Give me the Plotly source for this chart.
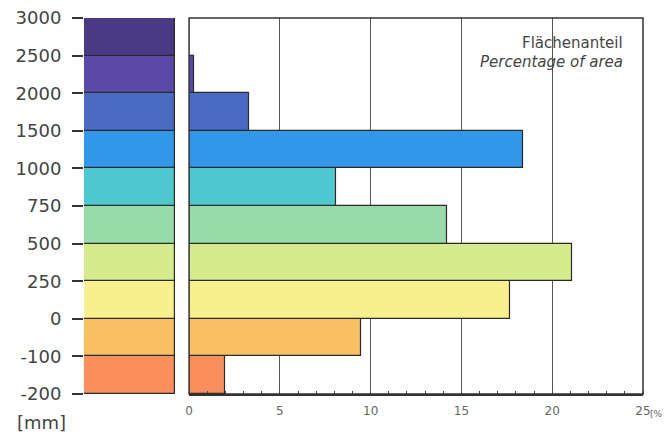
import plotly.graph_objects as go

# Bands from bottom (-200..-100) to top (2500..3000)
band_labels = ["-200 – -100", "-100 – 0", "0 – 250", "250 – 500", "500 – 750",
               "750 – 1000", "1000 – 1500", "1500 – 2000", "2000 – 2500", "2500 – 3000"]
area_pct = [2.0, 9.5, 17.7, 21.1, 14.2, 8.1, 18.4, 3.3, 0.3, 0.0]
band_colors = ["#f98f5c", "#f9bf63", "#f8ef8f", "#d5ec8e", "#98dba8",
               "#4ec7cf", "#3397e8", "#4b6ac2", "#5b49a8", "#4a3a86"]
tick_text = ["-200", "-100", "0", "250", "500", "750", "1000", "1500", "2000", "2500", "3000"]
x_ticks = [0, 5, 10, 15, 20, 25]

n = len(band_labels)
y_pos = [i + 0.5 for i in range(n)]

FONT = "DejaVu Sans, Liberation Sans, Arial, sans-serif"

fig = go.Figure()

# colour key strip on the left
fig.add_trace(go.Bar(
    y=y_pos, x=[1] * n, base=0, width=1, orientation="h",
    marker=dict(color=band_colors, line=dict(color="#2a2a2a", width=1.2)),
    xaxis="x", yaxis="y", hovertext=band_labels, showlegend=False,
))

# percentage bars
fig.add_trace(go.Bar(
    y=y_pos, x=area_pct, base=0, width=1, orientation="h",
    marker=dict(color=band_colors, line=dict(color="#2a2a2a", width=1.2)),
    xaxis="x2", yaxis="y", hovertext=band_labels, showlegend=False,
))

fig.update_layout(
    width=663, height=426,
    margin=dict(l=76, r=28, t=10, b=40, autoexpand=False),
    paper_bgcolor="white", plot_bgcolor="white",
    font=dict(family=FONT, color="#333"),
    bargap=0,
    xaxis=dict(domain=[0, 0.163], range=[0, 1], visible=False, fixedrange=True),
    xaxis2=dict(
        domain=[0.188, 1], range=[0, 25], anchor="y",
        tickvals=x_ticks, ticktext=[str(v) for v in x_ticks],
        showgrid=True, gridcolor="#555", gridwidth=1,
        showline=True, linecolor="#333", linewidth=1.5,
        ticks="", zeroline=False, automargin=False,
        ticklabelstandoff=5, ticklabeloverflow="allow",
        tickfont=dict(size=12, color="#666", family=FONT),
        minor=dict(dtick=1, ticks="inside", ticklen=3, tickcolor="#444", showgrid=False),
    ),
    yaxis=dict(
        range=[0, n], tickvals=list(range(n + 1)), ticktext=tick_text,
        ticks="outside", ticklen=11, tickcolor="#333", tickwidth=1.5,
        ticklabelstandoff=7, ticklabeloverflow="allow",
        showgrid=False, zeroline=False, showline=False, automargin=False,
        tickfont=dict(size=18, color="#444", family=FONT),
    ),
    shapes=[dict(type="rect", xref="x2 domain", yref="y domain",
                 x0=0, x1=1, y0=0, y1=1, line=dict(color="#333", width=1.5),
                 fillcolor="rgba(0,0,0,0)", layer="above")],
    annotations=[
        dict(text="Flächenanteil", xref="paper", yref="paper", x=0.968, y=0.934,
             xanchor="right", yanchor="middle", showarrow=False,
             font=dict(size=15, color="#444", family=FONT)),
        dict(text="<i>Percentage of area</i>", xref="paper", yref="paper", x=0.968, y=0.883,
             xanchor="right", yanchor="middle", showarrow=False,
             font=dict(size=15, color="#444", family=FONT)),
        dict(text="[mm]", xref="paper", yref="paper", x=-0.123, y=-0.077,
             xanchor="left", yanchor="middle", showarrow=False,
             font=dict(size=18, color="#444", family=FONT)),
        dict(text="[%]", xref="paper", yref="paper", x=1.009, y=-0.052,
             xanchor="left", yanchor="middle", showarrow=False,
             font=dict(size=9, color="#666", family=FONT)),
    ],
)

fig.write_html("out.html")
